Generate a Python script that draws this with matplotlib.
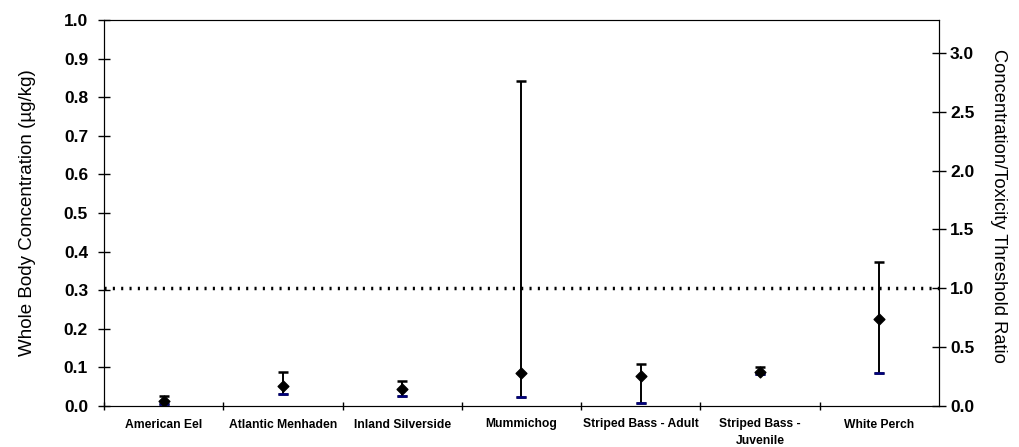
import matplotlib.pyplot as plt
import numpy as np

plt.rcParams['font.family'] = ['Liberation Sans', 'DejaVu Sans']

# Species sampled (category order along x)
species = ['American Eel', 'Atlantic Menhaden', 'Inland Silverside', 'Mummichog',
           'Striped Bass - Adult', 'Striped Bass -\nJuvenile', 'White Perch']
conc_mid = [0.012, 0.052, 0.045, 0.085, 0.078, 0.087, 0.226]     # diamonds
conc_high = [0.026, 0.088, 0.064, 0.843, 0.110, 0.100, 0.373]    # upper whisker
conc_low = [0.006, 0.031, 0.025, 0.023, 0.009, 0.082, 0.085]     # lower whisker
threshold = 0.305                                                # toxicity threshold

fig = plt.figure(figsize=(10.2, 4.47), dpi=100)
ax = fig.add_axes([104 / 1020, 41 / 447, 835 / 1020, 386 / 447])

x = np.arange(len(species))
mid = np.array(conc_mid)
yerr = [mid - np.array(conc_low), np.array(conc_high) - mid]

# whiskers + upper caps in black
ax.errorbar(x, mid, yerr=yerr, fmt='none', ecolor='black', elinewidth=1.4,
            capsize=3.4, capthick=1.8, zorder=3)
# lower caps drawn again in navy, the way the original shows them
ax.scatter(x, conc_low, marker='_', s=44, color='#000080', linewidths=1.8, zorder=4)
ax.scatter(x, mid, marker='D', s=30, color='black', zorder=5)

# threshold line
ax.axhline(threshold, color='black', linestyle=(0, (0.6, 1.8)), linewidth=2.5, zorder=2)

ax.set_xlim(-0.5, len(species) - 0.5)
ax.set_ylim(0, 1.0)
ax.set_yticks(np.arange(0, 1.01, 0.1))
ax.set_yticklabels(['%.1f' % v for v in np.arange(0, 1.01, 0.1)], fontsize=12.5, fontweight='bold')
ax.tick_params(axis='y', direction='inout', length=9, width=1, pad=7)

ax.set_xticks(x)
ax.set_xticklabels(species, fontsize=8.7, fontweight='bold', linespacing=1.55)
ax.set_xticks(np.arange(-0.5, len(species), 1.0)[:-1], minor=True)
ax.tick_params(axis='x', which='major', length=0, pad=9)
ax.tick_params(axis='x', which='minor', direction='inout', length=6, width=1)

ax.set_ylabel('Whole Body Concentration (µg/kg)', fontsize=13.5, labelpad=20)

for side in ['top', 'bottom']:
    ax.spines[side].set_color('#555555')
ax.spines['left'].set_color('black')

# ratio axis on the right
ax2 = ax.twinx()
ax2.set_ylim(0, 1.0 / threshold)
ax2.set_yticks(np.arange(0, 3.01, 0.5))
ax2.set_yticklabels(['%.1f' % v for v in np.arange(0, 3.01, 0.5)], fontsize=12.5, fontweight='bold')
ax2.tick_params(axis='y', direction='inout', length=10, width=1, pad=3)
ax2.set_ylabel('Concentration/Toxicity Threshold Ratio', fontsize=13.2, rotation=270,
               labelpad=23.5, y=0.519)
ax2.spines['right'].set_color('black')

fig.savefig('out.png', dpi=100)
